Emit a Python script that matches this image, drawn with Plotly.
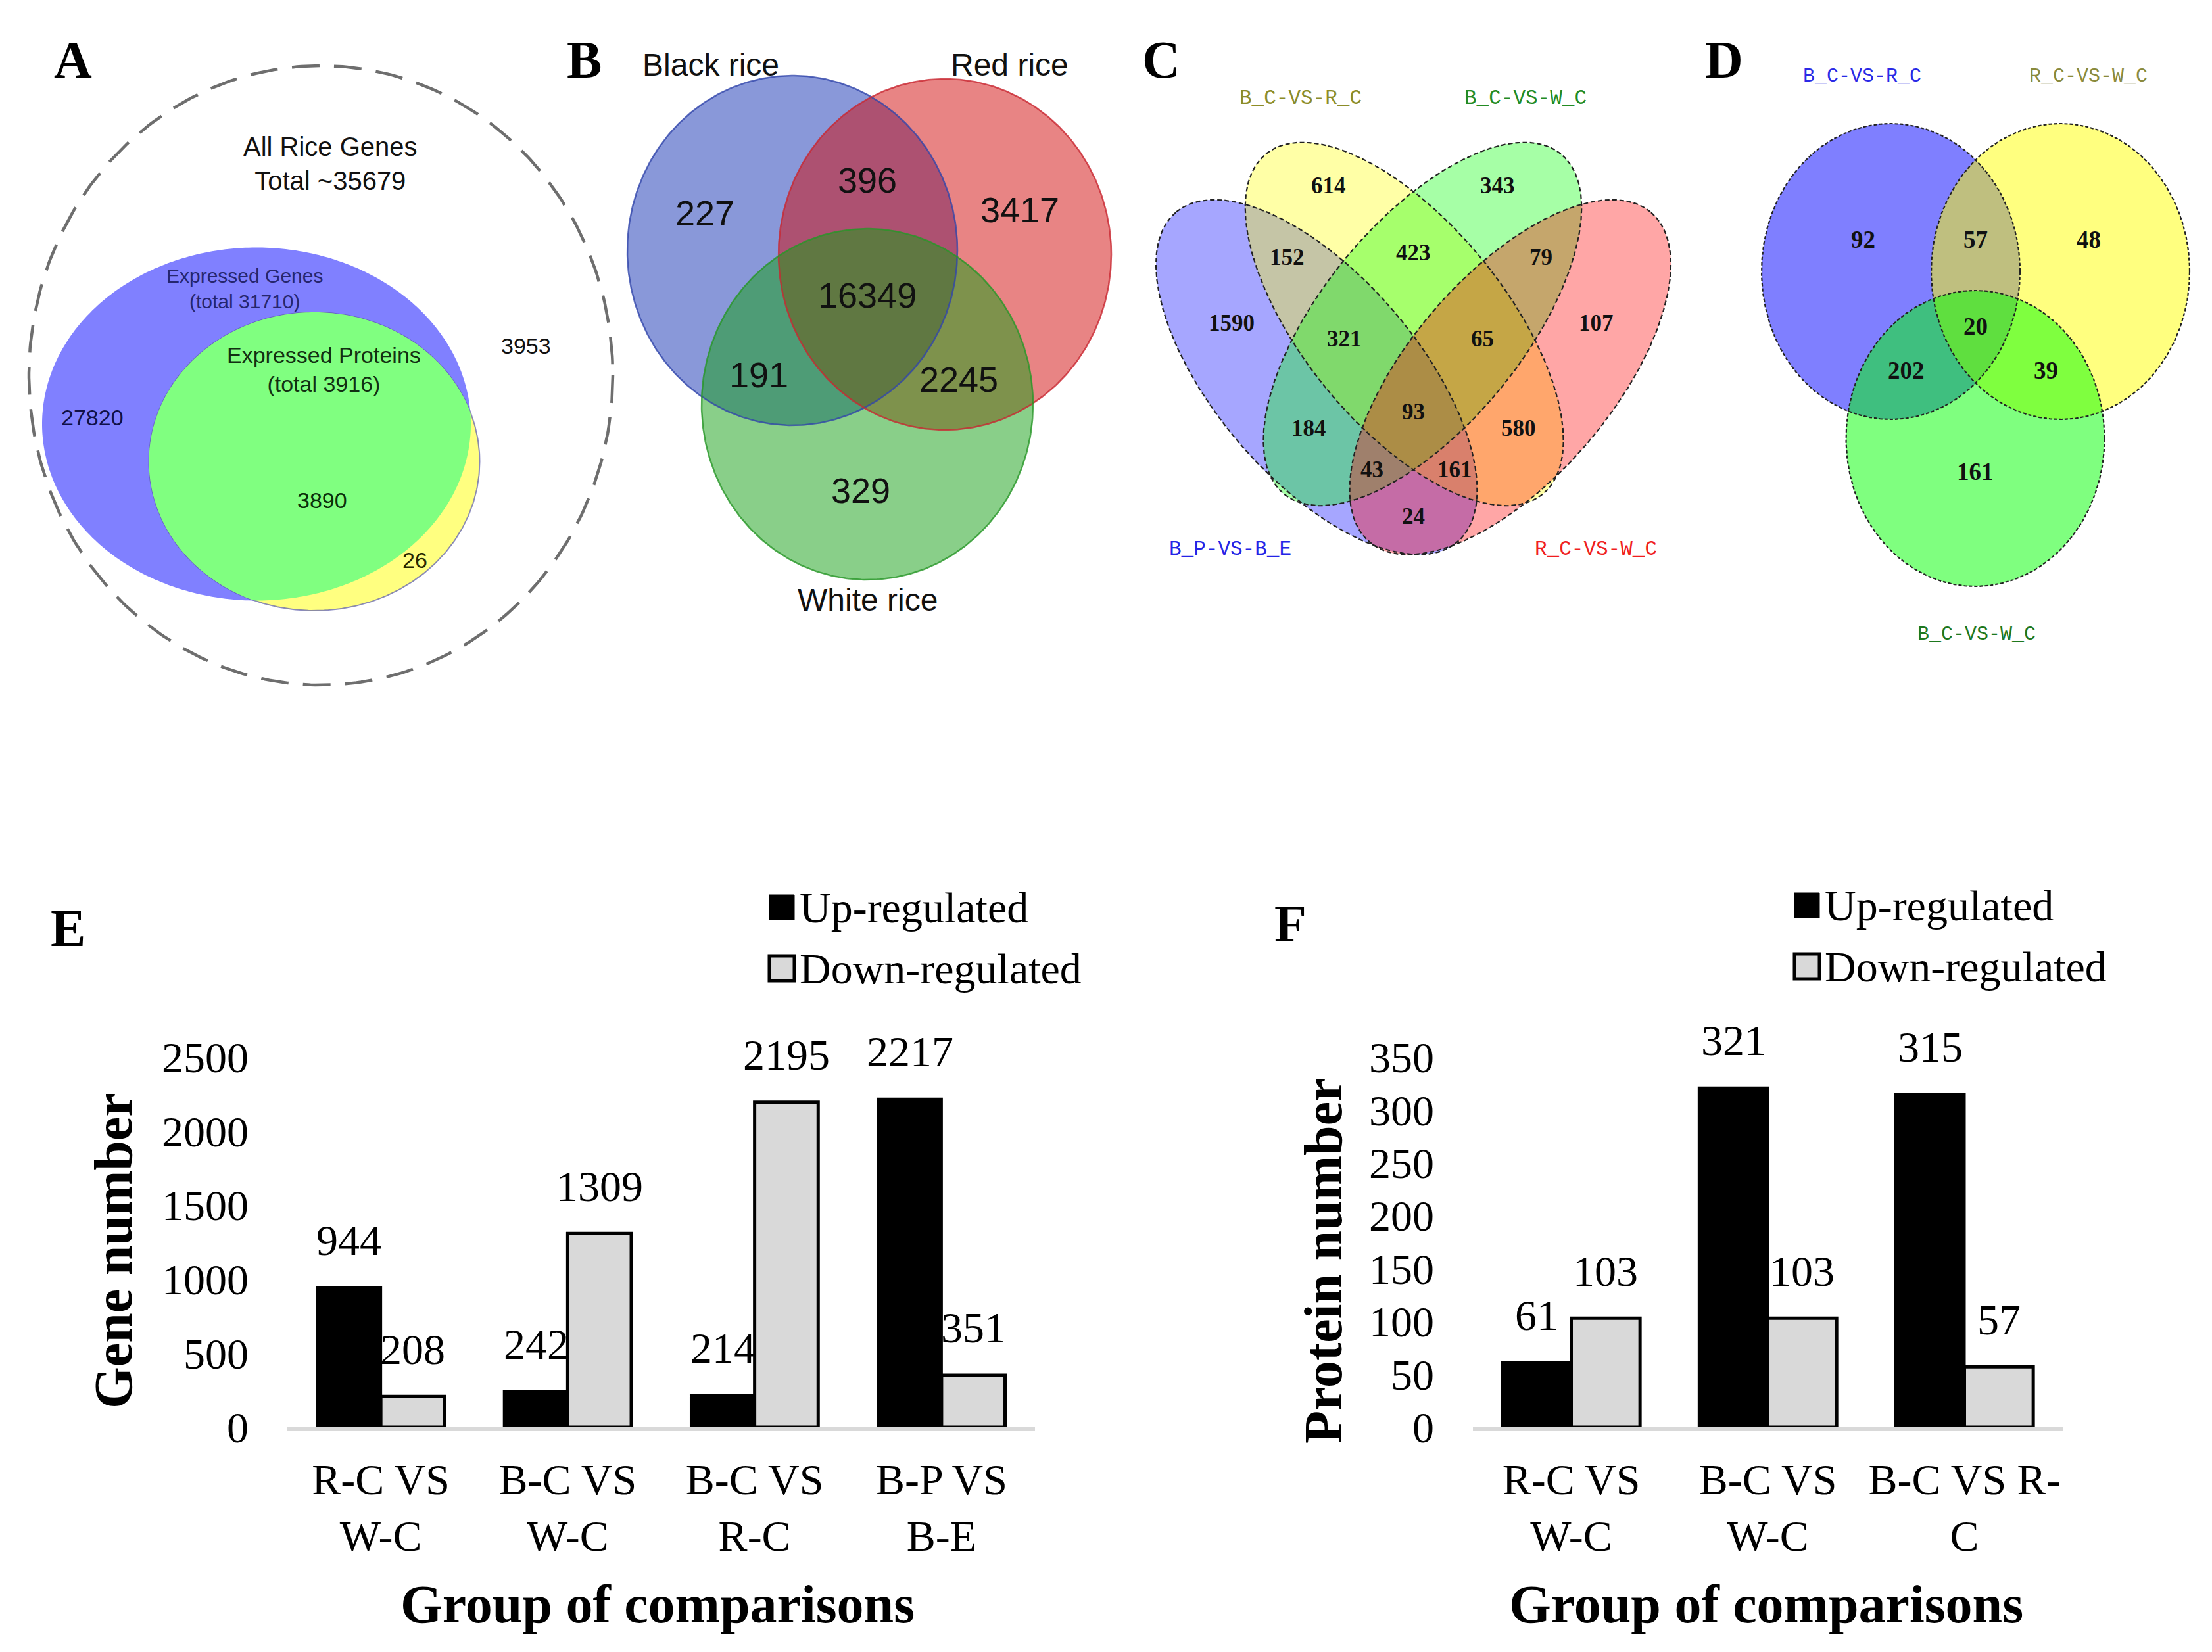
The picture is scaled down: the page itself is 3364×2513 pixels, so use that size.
import numpy as np
import plotly.graph_objects as go

W, H = 3364, 2513

# ---------------- DATA ----------------
# Panel A
a_texts = ["All Rice Genes<br>Total ~35679", "Expressed Genes<br>(total 31710)",
           "Expressed Proteins<br>(total 3916)"]
a_counts = [27820, 3890, 26, 3953]          # genes only, genes&proteins, proteins only, none

# Panel B (Black only, Black&Red, Red only, all three, Black&White, Red&White, White only)
b_sets = ["Black rice", "Red rice", "White rice"]
b_counts = [227, 396, 3417, 16349, 191, 2245, 329]

# Panel C
c_sets = ["B_P-VS-B_E", "B_C-VS-R_C", "B_C-VS-W_C", "R_C-VS-W_C"]
c_counts = [614, 343, 152, 423, 79, 1590, 107, 321, 65, 93, 184, 580, 43, 161, 24]

# Panel D
d_sets = ["B_C-VS-R_C", "R_C-VS-W_C", "B_C-VS-W_C"]
d_counts = [92, 57, 48, 20, 202, 39, 161]

# Panel E
e_groups = ["R-C VS<br>W-C", "B-C VS<br>W-C", "B-C VS<br>R-C", "B-P VS<br>B-E"]
e_up = [944, 242, 214, 2217]
e_down = [208, 1309, 2195, 351]

# Panel F
f_groups = ["R-C VS<br>W-C", "B-C VS<br>W-C", "B-C VS R-<br>C"]
f_up = [61, 321, 315]
f_down = [103, 103, 57]

series_names = ["Up-regulated", "Down-regulated"]

# ---------------- LAYOUT GEOMETRY (pixels) ----------------
SANS = "Liberation Sans"
SERIF = "Liberation Serif"
MONO = "Liberation Mono"

fig = go.Figure()


def ell(cx, cy, rx, ry, ang=0.0, n=400):
    t = np.linspace(0, 2 * np.pi, n)
    ca, sa = np.cos(ang), np.sin(ang)
    x = cx + rx * np.cos(t) * ca - ry * np.sin(t) * sa
    y = cy + rx * np.cos(t) * sa + ry * np.sin(t) * ca
    return x, y


def fit_ellipse(px, py, n=400):
    px = np.asarray(px, float); py = np.asarray(py, float)
    mx, my = px.mean(), py.mean()
    s = max(px.std(), py.std())
    x = (px - mx) / s; y = (py - my) / s
    D1 = np.column_stack([x * x, x * y, y * y])
    D2 = np.column_stack([x, y, np.ones_like(x)])
    S1 = D1.T @ D1; S2 = D1.T @ D2; S3 = D2.T @ D2
    T = -np.linalg.solve(S3, S2.T)
    M = S1 + S2 @ T
    M = np.array([M[2] / 2, -M[1], M[0] / 2])
    w, v = np.linalg.eig(M)
    v = np.real(v)
    cond = 4 * v[0] * v[2] - v[1] ** 2
    idx = int(np.argmax(cond))
    a1 = v[:, idx]
    A, B, C = a1
    D, E, F = T @ a1
    x0, y0 = np.linalg.solve(np.array([[2 * A, B], [B, 2 * C]]), np.array([-D, -E]))
    F0 = A * x0 * x0 + B * x0 * y0 + C * y0 * y0 + D * x0 + E * y0 + F
    ev, evec = np.linalg.eigh(np.array([[A, B / 2], [B / 2, C]]))
    semi = np.sqrt(np.abs(F0 / ev))
    t = np.linspace(0, 2 * np.pi, n)
    pts = evec @ np.vstack([semi[0] * np.cos(t), semi[1] * np.sin(t)])
    return pts[0] * s + x0 * s + mx, pts[1] * s + y0 * s + my


def poly(xs, ys, fill=None, lc=None, lw=0, dash=None):
    kw = dict(x=list(xs), y=list(ys), xaxis="x", yaxis="y", hoverinfo="skip",
              showlegend=False)
    if fill is not None:
        kw["fill"] = "toself"; kw["fillcolor"] = fill
    if lw > 0:
        kw["mode"] = "lines"
        kw["line"] = dict(color=lc, width=lw, dash=dash)
    else:
        kw["mode"] = "none"
    fig.add_trace(go.Scatter(**kw))


def txt(x, y, s, size, color="#111", family=SANS, bold=False, xref="x", yref="y", **kw):
    if bold:
        s = "<b>" + s + "</b>"
    fig.add_annotation(x=x, y=y, text=s, showarrow=False, xref=xref, yref=yref,
                       font=dict(size=size, color=color, family=family), **kw)

# ---------------- PANEL A ----------------
A_outer = (488, 571, 444, 471)
A_genes = (390, 645, 326, 268.5)
A_prot = (478, 702, 251.5, 227)

gx, gy = ell(*A_genes)
poly(gx, gy, fill="#8080ff")
pxs, pys = ell(*A_prot)
poly(pxs, pys, fill="#ffff80", lc="rgba(90,90,170,0.7)", lw=2)


def inside(x, y, e):
    return ((x - e[0]) / e[2]) ** 2 + ((y - e[1]) / e[3]) ** 2 <= 1.0

ix = np.concatenate([pxs[inside(pxs, pys, A_genes)], gx[inside(gx, gy, A_prot)]])
iy = np.concatenate([pys[inside(pxs, pys, A_genes)], gy[inside(gx, gy, A_prot)]])
order = np.argsort(np.arctan2(iy - A_prot[1], ix - A_prot[0]))
poly(np.append(ix[order], ix[order][0]), np.append(iy[order], iy[order][0]), fill="#80ff80")

ox, oy = ell(*A_outer)
poly(ox, oy, lc="#6e6e6e", lw=4.5, dash="42px,22px")

txt(502, 249, a_texts[0], 40)
txt(372, 439, a_texts[1], 30, color="#26266e")
txt(492, 562, a_texts[2], 34, color="#123012")
a_pos = [(140, 635, "#101048"), (490, 761, "#0a2e0a"), (631, 852, "#262600"), (800, 526, "#111")]
for (x, y, c), v in zip(a_pos, a_counts):
    txt(x, y, str(v), 34, color=c)

# ---------------- PANEL B ----------------
B_circ = [(1205, 381, 251, 266), (1437, 387, 253, 267), (1319, 615, 252, 267)]
B_fill = ["rgba(20,50,180,0.5)", "rgba(210,10,10,0.5)", "rgba(20,160,20,0.5)"]
B_line = ["rgba(50,70,170,0.8)", "rgba(200,40,50,0.8)", "rgba(40,150,40,0.8)"]
for e, f in zip(B_circ, B_fill):
    x, y = ell(*e)
    poly(x, y, fill=f)
for e, l in zip(B_circ, B_line):
    x, y = ell(*e)
    poly(x, y, lc=l, lw=2.5)
b_lab_pos = [(1081, 98), (1535, 98), (1319, 912)]
for (x, y), s in zip(b_lab_pos, b_sets):
    txt(x, y, s, 48)
b_num_pos = [(1072, 324), (1319, 274), (1551, 319), (1319, 449), (1154, 570), (1458, 577), (1309, 746)]
for (x, y), v in zip(b_num_pos, b_counts):
    txt(x, y, str(v), 54)

# ---------------- PANEL C ----------------
AXC = 2149.5
blue_pts = np.array([(1765.7, 420.9), (1797.3, 561.2), (1853.4, 305.9), (1895.5, 308.7),
                     (2044.2, 396.4), (2149.5, 512.1), (2226.6, 648.9), (2242.8, 761.1),
                     (2148.1, 852.3), (2042.8, 806.7), (1965.7, 743.6)])
yel_pts = np.array([(1972.7, 216.1), (1916.6, 242.0), (1895.5, 305.2), (1962.2, 515.6),
                    (2070.9, 648.9), (2149.5, 715.5), (2242.8, 761.1), (2375.4, 638.4),
                    (2334.0, 515.6), (2254.7, 396.4), (2149.5, 291.1)])
bx, by = fit_ellipse(blue_pts[:, 0], blue_pts[:, 1])
yx, yy = fit_ellipse(yel_pts[:, 0], yel_pts[:, 1])
C_shapes = [(bx, by), (yx, yy), (2 * AXC - yx, yy), (2 * AXC - bx, by)]
C_fill = ["rgba(0,0,255,0.35)", "rgba(255,255,0,0.35)", "rgba(0,255,0,0.35)", "rgba(255,0,0,0.35)"]
for (x, y), f in zip(C_shapes, C_fill):
    poly(x, y, fill=f)
for (x, y) in C_shapes:
    poly(x, y, lc="#222", lw=2.2, dash="7px,4px")
c_lab = [(1871, 835, "#2424e6"), (1978, 149, "#8c8c28"), (2320, 149, "#238b23"), (2427, 835, "#f01e1e")]
for (x, y, c), s in zip(c_lab, c_sets):
    txt(x, y, s, 31, color=c, family=MONO)
c_num_pos = [(2020.4, 282.7), (2277.8, 282.7), (1957.3, 391.4), (2149.5, 384.4), (2343.1, 391.4),
             (1873.1, 491.1), (2427.3, 491.1), (2044.2, 515.6), (2254.7, 515.6), (2149.5, 626.4),
             (1990.2, 651.0), (2309.4, 651.0), (2086.3, 714.1), (2212.6, 714.1), (2149.5, 785.7)]
for (x, y), v in zip(c_num_pos, c_counts):
    txt(x, y, str(v), 35, family=SERIF, bold=True)

# ---------------- PANEL D ----------------
D_circ = [(2875.5, 413, 196.5, 225), (3133.5, 413, 196.5, 225), (3004, 667, 196.5, 225)]
D_fill = ["rgba(0,0,255,0.5)", "rgba(255,255,0,0.5)", "rgba(0,255,0,0.5)"]
for e, f in zip(D_circ, D_fill):
    x, y = ell(*e)
    poly(x, y, fill=f)
for e in D_circ:
    x, y = ell(*e)
    poly(x, y, lc="#222", lw=2.2, dash="5px,3px")
d_lab = [(2832, 116, "#2a2ae6"), (3176, 116, "#8a8a3c"), (3006, 965, "#1e781e")]
for (x, y, c), s in zip(d_lab, d_sets):
    txt(x, y, s, 30, color=c, family=MONO)
d_num_pos = [(2833.6, 364.8), (3004, 364.8), (3176, 364.8), (3004, 496.7), (2899, 563.3),
             (3111.4, 563.3), (3004, 717)]
for (x, y), v in zip(d_num_pos, d_counts):
    txt(x, y, str(v), 37, family=SERIF, bold=True)

# ---------------- Panel letters ----------------
for (x, y), s in zip([(111, 91), (888, 91), (1766, 91), (2622, 91), (103, 1412), (1962, 1405)],
                     ["A", "B", "C", "D", "E", "F"]):
    txt(x, y, s, 80, color="#000", family=SERIF, bold=True)

# ---------------- BAR CHARTS ----------------
UP_COL, DOWN_COL = "#000000", "#d9d9d9"


def bars(groups, up, down, xa, ya, w, names):
    fig.add_trace(go.Bar(x=groups, y=up, name=names[0], width=w, offset=-w,
                         marker=dict(color=UP_COL, line=dict(color="#000", width=4)),
                         xaxis=xa, yaxis=ya, showlegend=False, hoverinfo="skip"))
    fig.add_trace(go.Bar(x=groups, y=down, name=names[1], width=w, offset=0,
                         marker=dict(color=DOWN_COL, line=dict(color="#000", width=5)),
                         xaxis=xa, yaxis=ya, showlegend=False, hoverinfo="skip"))
    for i, (u, d) in enumerate(zip(up, down)):
        for xv, val in ((i - w / 2, u), (i + w / 2, d)):
            fig.add_annotation(x=xv, y=val, text=str(val), showarrow=False,
                               xref=xa, yref=ya, yshift=72, yanchor="middle",
                               font=dict(size=66, family=SERIF, color="#000"))

bars(e_groups, e_up, e_down, "x2", "y2", 0.34, series_names)
bars(f_groups, f_up, f_down, "x3", "y3", 0.35, series_names)

ydom = [1 - 2171 / H, 1 - 1608 / H]
xcommon = dict(type="category", showline=True, linecolor="#d9d9d9", linewidth=6,
               ticks="", showgrid=False, zeroline=False, ticklabelstandoff=17, automargin=False,
               tickfont=dict(size=66, family=SERIF, color="#000"), fixedrange=True)
ycommon = dict(showline=False, ticks="", showgrid=False, zeroline=False, ticklabelstandoff=58,
               automargin=False,
               tickfont=dict(size=66, family=SERIF, color="#000"), fixedrange=True)

fig.update_layout(
    width=W, height=H, margin=dict(l=0, r=0, t=0, b=0, pad=0, autoexpand=False),
    paper_bgcolor="white", plot_bgcolor="rgba(0,0,0,0)",
    barmode="overlay", showlegend=False,
    xaxis=dict(domain=[0, 1], range=[0, W], visible=False, fixedrange=True, automargin=False),
    yaxis=dict(domain=[0, 1], range=[H, 0], visible=False, fixedrange=True, automargin=False),
    xaxis2=dict(domain=[437 / W, 1574 / W], anchor="y2", categoryorder="array",
                categoryarray=e_groups, range=[-0.5, 3.5], **xcommon),
    yaxis2=dict(domain=ydom, anchor="x2", range=[0, 2500], tickvals=[0, 500, 1000, 1500, 2000, 2500],
                **ycommon),
    xaxis3=dict(domain=[2240 / W, 3137 / W], anchor="y3", categoryorder="array",
                categoryarray=f_groups, range=[-0.5, 2.5], **xcommon),
    yaxis3=dict(domain=ydom, anchor="x3", range=[0, 350], tickvals=[0, 50, 100, 150, 200, 250, 300, 350],
                **ycommon),
)

# axis titles
txt(1000, 2440, "Group of comparisons", 82, color="#000", family=SERIF, bold=True)
txt(2686, 2440, "Group of comparisons", 82, color="#000", family=SERIF, bold=True)
txt(172, 1903, "Gene number", 82, color="#000", family=SERIF, bold=True, textangle=-90)
txt(2012, 1918, "Protein number", 82, color="#000", family=SERIF, bold=True, textangle=-90)

# legends
for lx, ly in ((1168, 1359), (2727, 1356)):
    for k, (nm, col) in enumerate(zip(series_names, [UP_COL, DOWN_COL])):
        y0 = ly + k * 93
        fig.add_shape(type="rect", xref="x", yref="y", x0=lx + 2, x1=lx + 40, y0=y0 + 2, y1=y0 + 40,
                      fillcolor=col, line=dict(color="#000", width=5 if k else 1))
        fig.add_annotation(x=lx + 46, y=y0 + 21, text=nm, showarrow=False, xref="x", yref="y",
                           xanchor="left", font=dict(size=66, family=SERIF, color="#000"))

fig.write_html("out.html", config={"displayModeBar": False},
               post_script="document.body.style.margin='0';document.body.style.overflow='hidden';")
